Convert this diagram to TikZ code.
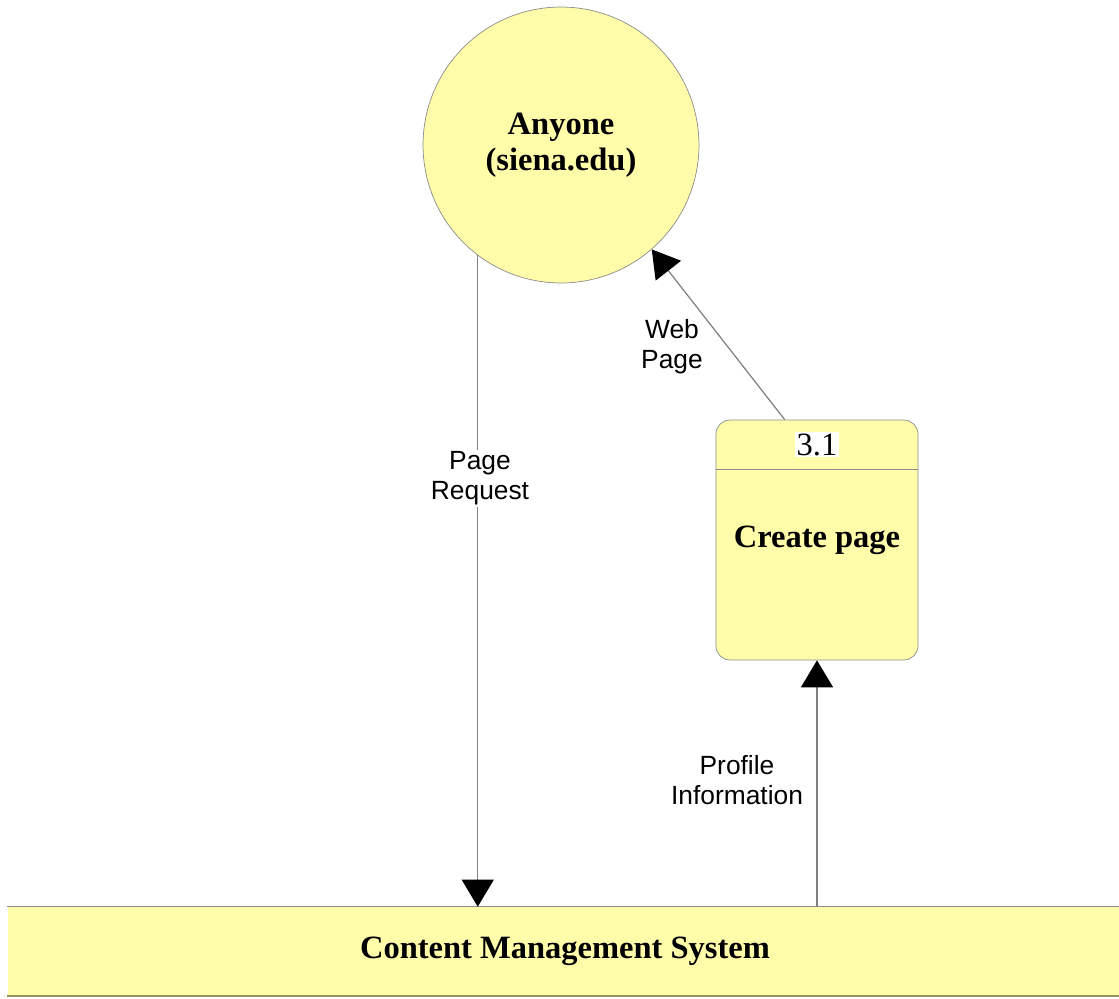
\documentclass[tikz,border=0pt]{standalone}
\usepackage{fontspec}
\setmainfont{Liberation Serif}
\newfontfamily\labelfont{Liberation Sans}
\usetikzlibrary{arrows.meta}

\definecolor{dfdyellow}{RGB}{255,252,170}
\definecolor{dfdgray}{RGB}{140,140,140}
\definecolor{dfdolive}{RGB}{150,145,95}

\tikzset{
  entity/.style={circle,draw=dfdgray,fill=dfdyellow,minimum size=5.52cm,
    inner sep=0pt,align=center,font=\fontsize{18.5}{20.5}\selectfont\bfseries},
  process/.style={rectangle,rounded corners=8pt,draw=dfdgray,fill=dfdyellow,
    minimum width=4.04cm,minimum height=4.8cm,inner sep=0pt,
    font=\fontsize{18.5}{21}\selectfont\bfseries},
  store/.style={rectangle,fill=dfdyellow,minimum width=22.3cm,
    minimum height=1.78cm,inner sep=0pt,
    font=\fontsize{18.5}{21}\selectfont\bfseries},
  flow/.style={draw=gray,line width=0.7pt,
    -{Triangle[width=0.64cm,length=0.54cm,color=black]}},
  flowlabel/.style={align=center,inner sep=1pt,
    font=\labelfont\fontsize{15}{17}\selectfont}
}

\begin{document}
\begin{tikzpicture}[x=0.02cm,y=-0.02cm]
  \useasboundingbox (0,0) rectangle (1119,998);

  \node[entity] (anyone) at (561,145) {Anyone\\(siena.edu)};
  \node[process] (create) at (817,540) {Create page};
  \draw[dfdgray,line width=0.7pt]
    ([yshift=-1cm]create.north west) -- ([yshift=-1cm]create.north east);
  \node[fill=white,inner sep=1pt,font=\fontsize{18.5}{21}\selectfont]
    (createnum) at ([yshift=-0.5cm]create.north) {3.1};
  \node[store] (cms) at (565,951.5) {Content Management System};
  \draw[dfdgray,line width=0.8pt] (cms.north west) -- (cms.north east);
  \draw[dfdolive,line width=1.2pt] (cms.south west) -- (cms.south east);

  \draw[flow] (anyone.-127.5) -- (anyone.-127.5 |- cms.north);
  \draw[flow] (create.105) -- (anyone.-49);
  \draw[flow] (create.south |- cms.north) -- (create.south);

  \node[flowlabel,fill=white] (reqlabel) at (480,478) {Page\\Request};
  \node[flowlabel] (weblabel) at (672,347) {Web\\Page};
  \node[flowlabel] (proflabel) at (737,780) {Profile\\Information};
\end{tikzpicture}
\end{document}
